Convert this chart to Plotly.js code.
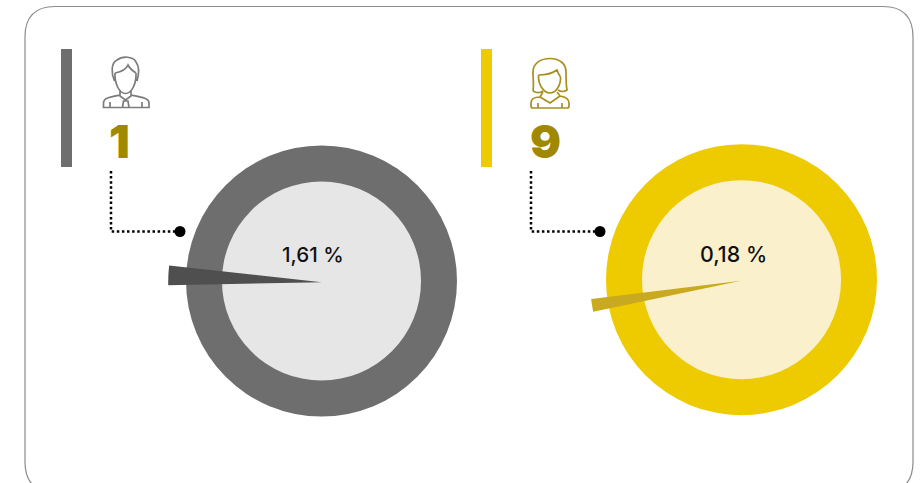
<!DOCTYPE html>
<html>
<head>
<meta charset="utf-8">
<script src="https://cdn.plot.ly/plotly-3.0.1.min.js"></script>
<style>html,body{margin:0;padding:0;background:#fff;overflow:hidden}#c{width:921px;height:483px}</style>
</head>
<body>
<div id="c"></div>
<script>
var shareLabels = ["1,61 %", "0,18 %"];
var counts = ["1", "9"];
var wedgeSpans = [2.06, 1.35];
var wedgeStarts = [268.9, 258.15];
var ringColors = ["#6e6e6e", "#eeca00"];
var innerColors = ["#e6e6e6", "#faf0cb"];
var wedgeColors = ["#4f4f4f", "#c9a91f"];
var countColor = "#a08800";

var W = 921, H = 483;
var ringCentres = [[321.5, 281], [741.5, 279.7]];
var wedgeCentres = [[321.7, 282.3], [741, 280.7]];
var labelCentres = [[313, 254], [733, 254]];
var labelSizes = [20.6, 21.4];
var barX = [61, 481];
var guideX = [111, 531];

function dom(c, r) {
  return { x: [(c[0] - r) / W, (c[0] + r) / W], y: [1 - (c[1] + r) / H, 1 - (c[1] - r) / H] };
}
function disc(c, r, col) {
  return { type: "pie", values: [100], domain: dom(c, r), sort: false, textinfo: "none", hoverinfo: "skip",
           showlegend: false, marker: { colors: [col], line: { width: 0 } } };
}
var traces = [];
var shapes = [];
var annotations = [];

shapes.push({ type: "path", xref: "x", yref: "y", layer: "below",
  path: "M25,37 Q25,6.5 55,6.5 L883,6.5 Q913,6.5 913,37 L913,462 Q913,492 883,492 L55,492 Q25,492 25,462 Z",
  line: { color: "#8c8c8c", width: 1.2 }, fillcolor: "rgba(0,0,0,0)" });

[0, 1].forEach(function (i) {
  traces.push(disc(ringCentres[i], 135.5, ringColors[i]));
  traces.push(disc(ringCentres[i], 99.5, innerColors[i]));
  traces.push({ type: "pie", values: [wedgeSpans[i], 100 - wedgeSpans[i]], domain: dom(wedgeCentres[i], i ? 151 : 153.5),
    sort: false, direction: "clockwise", rotation: wedgeStarts[i], textinfo: "none", hoverinfo: "skip", showlegend: false,
    marker: { colors: [wedgeColors[i], "rgba(0,0,0,0)"], line: { width: 0 } } });
  traces.push({ type: "scatter", mode: "lines", x: [guideX[i], guideX[i], guideX[i] + 69], y: [171, 231.5, 231.5],
    line: { color: "#000", width: 2.5, dash: "2.5px,2.6px" }, hoverinfo: "skip", showlegend: false });
  traces.push({ type: "scatter", mode: "markers", x: [guideX[i] + 69], y: [231.5],
    marker: { color: "#000", size: 11 }, hoverinfo: "skip", showlegend: false });
  shapes.push({ type: "rect", xref: "x", yref: "y", layer: "below", x0: barX[i], x1: barX[i] + 11, y0: 49, y1: 167,
    fillcolor: ringColors[i], line: { width: 0 } });
  annotations.push({ xref: "x", yref: "y", x: labelCentres[i][0], y: labelCentres[i][1], showarrow: false,
    text: shareLabels[i], font: { family: "Inter", size: labelSizes[i], color: "#111", weight: 500 }, xanchor: "center", yanchor: "middle" });
  annotations.push({ xref: "x", yref: "y", x: i ? 545.5 : 119, y: 141, showarrow: false,
    text: counts[i], font: { family: "Inter", size: 46, color: countColor, weight: 900 }, xanchor: "center", yanchor: "middle" });
});

var manPath = "M114.5,81 C111,73 111,63 117,60 C122,56 133,56 136,62 C139,66 139,74 137,81 " +
  "M115,73 C120,72 126,70 128,65 C130,69 133,71 136,73 " +
  "M115,73 C114.5,83 119,93.5 125.5,93.5 C132,93.5 136.5,83 136,73 " +
  "M120,90 L120,96 L125.5,100 L131,96 L131,90 " +
  "M120,95 C110,97 103.5,98 103.5,103 L103.5,107.5 L149,107.5 L149,103 C149,98 141,97 131,95 " +
  "M123.5,101 L122.5,107.5 L129,107.5 L128,101 Z M110,102 L110,107.5 M142,102 L142,107.5";
var womanPath = "M533,91 C534,85 533,80 533,72 C533,63 541,58.5 550,58.5 C560,58.5 566,64 566,72 C566,80 566,85 567,90 C564,92 561,92 558,90 " +
  "M533,91 C536,93 540,93 543,91 " +
  "M538.5,75 C546,75 553,73 557,70 C558,73 559,75 560.5,77 " +
  "M538.5,75 C538,85 544,93 550,93 C556,93 561,85 560.5,77 " +
  "M543,92 L540,97 C534,97 531,99 531,103 L531,106 Q531,108 533,108 L567,108 Q569,108 569,106 L569,103 C569,99 566,97 560,96 L557,92 " +
  "M540,97 L550,103 L560,96 M538,103 L538,108 M562,103 L562,108";
shapes.push({ type: "path", xref: "x", yref: "y", path: manPath, line: { color: "#7c7c7c", width: 1.7 } });
shapes.push({ type: "path", xref: "x", yref: "y", path: womanPath, line: { color: "#a89020", width: 1.7 } });

var layout = {
  width: W, height: H,
  margin: { l: 0, r: 0, t: 0, b: 0 },
  paper_bgcolor: "#fff", plot_bgcolor: "rgba(0,0,0,0)",
  showlegend: false,
  xaxis: { range: [0, W], visible: false, fixedrange: true },
  yaxis: { range: [H, 0], visible: false, fixedrange: true },
  shapes: shapes,
  annotations: annotations
};
Plotly.newPlot("c", traces, layout, { displayModeBar: false, staticPlot: true });
</script>
</body>
</html>
